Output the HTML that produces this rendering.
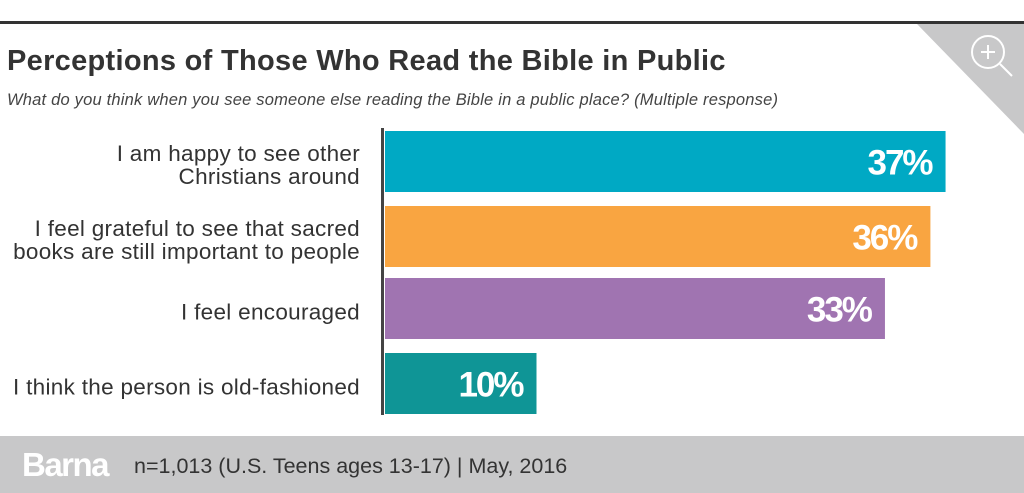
<!DOCTYPE html>
<html><head><meta charset="utf-8"><style>
body{margin:0;width:1024px;height:493px;overflow:hidden;background:#fff;font-family:"Liberation Sans",sans-serif;position:relative}
.abs{position:absolute;white-space:nowrap}
</style></head><body>
<div class="abs" style="left:0;top:21px;width:1024px;height:3px;background:#333"></div>
<svg class="abs" style="left:0;top:0" width="1024" height="493">
<polygon points="917,24 1024,24 1024,134" fill="#c8c8c9"/>
<g stroke="#fff" stroke-width="2" fill="none">
<circle cx="988" cy="52" r="16"/><line x1="1000" y1="64" x2="1012" y2="76"/>
<line x1="988" y1="45" x2="988" y2="59"/><line x1="981" y1="52" x2="995" y2="52"/></g>
<g id="bars"></g>
<rect x="381" y="128" width="3" height="287" fill="#444"/>
</svg>
<div class="abs" style="left:7px;top:45px;font-size:29px;font-weight:bold;color:#333;letter-spacing:0.3px">Perceptions of Those Who Read the Bible in Public</div>
<div class="abs" style="left:7px;top:91px;font-size:16.5px;font-style:italic;color:#444;letter-spacing:0.2px">What do you think when you see someone else reading the Bible in a public place? (Multiple response)</div>
<div class="abs" style="left:0;top:436px;width:1024px;height:57px;background:#c8c8c9">
<div class="abs" style="left:22px;top:10px;font-size:33px;font-weight:bold;color:#fff;letter-spacing:-1.5px">Barna</div>
<div class="abs" style="left:134px;top:18px;font-size:21.5px;color:#333">n=1,013 (U.S. Teens ages 13-17) | May, 2016</div>
</div>
<script>
const categories=["I am happy to see other\nChristians around","I feel grateful to see that sacred\nbooks are still important to people","I feel encouraged","I think the person is old-fashioned"];
const values=[37,36,33,10];
const colors=["#00a9c4","#f9a541","#a074b1","#0f9596"];
const x0=385,scale=15.15,tops=[131,206,278,353],h=61;
const g=document.getElementById('bars');const ns="http://www.w3.org/2000/svg";
values.forEach((v,i)=>{
const r=document.createElementNS(ns,'rect');


r.setAttribute('x',x0);r.setAttribute('y',tops[i]);r.setAttribute('width',v*scale);r.setAttribute('height',h);r.setAttribute('fill',colors[i]);g.appendChild(r);
const t=document.createElementNS(ns,'text');


t.setAttribute('x',x0+v*scale-14);t.setAttribute('y',tops[i]+h/2+13);t.setAttribute('text-anchor','end');t.setAttribute('fill','#fff');t.setAttribute('font-size','35');t.setAttribute('font-weight','bold');t.setAttribute('letter-spacing','-2');t.textContent=v+'%';g.appendChild(t);
const lines=categories[i].split('\n');
lines.forEach((ln,j)=>{
const c=document.createElementNS(ns,'text');


const cy=tops[i]+h/2+11+(j-(lines.length-1)/2)*23;
c.setAttribute('x',360);c.setAttribute('y',cy);c.setAttribute('text-anchor','end');c.setAttribute('fill','#333');c.setAttribute('font-size','22.5');c.setAttribute('letter-spacing','0.3');c.textContent=ln;g.appendChild(c);});
});
</script>
</body></html>
